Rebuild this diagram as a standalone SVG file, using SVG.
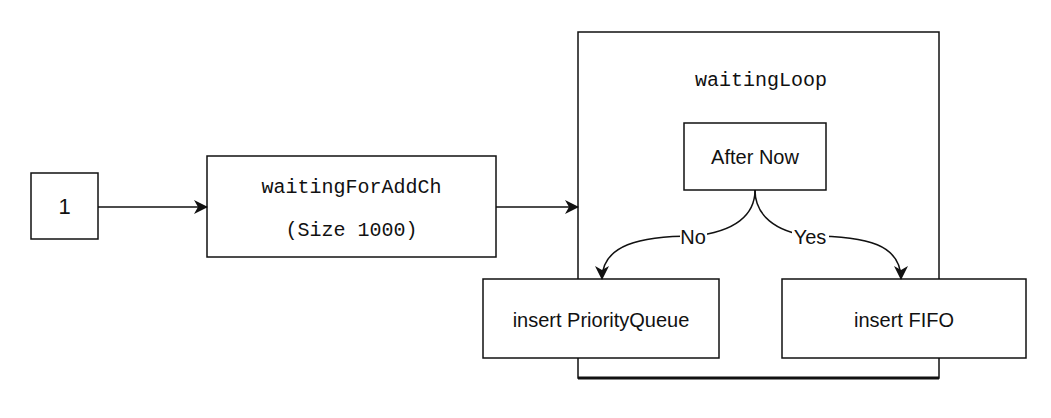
<svg xmlns="http://www.w3.org/2000/svg" width="1051" height="418" viewBox="0 0 1051 418">
<defs>
<style>
.box{fill:#fff;stroke:#111;stroke-width:1.5}
.edge{fill:none;stroke:#111;stroke-width:1.5}
.sans{font-family:"Liberation Sans",Arial,sans-serif;font-size:20px;fill:#111;text-anchor:middle;dominant-baseline:central}
.mono{font-family:"Liberation Mono","Courier New",monospace;font-size:20px;fill:#111;text-anchor:middle;dominant-baseline:central}
</style>
<marker id="arr" viewBox="0 0 14 14" refX="13" refY="7" markerWidth="14" markerHeight="14" markerUnits="userSpaceOnUse" orient="auto">
<path d="M0,0 L14,7 L0,14 L4,7 Z" fill="#111"/>
</marker>
</defs>
<rect width="1051" height="418" fill="#fff"/>
<g id="waitingLoop">
<rect class="box" x="578" y="32" width="361" height="346"/>
<line x1="578" y1="378" x2="939" y2="378" stroke="#111" stroke-width="3"/>
<text class="mono" x="761" y="80">waitingLoop</text>
</g>
<g id="node1">
<rect class="box" x="31" y="173" width="67" height="66"/>
<text class="sans" x="64.5" y="206" style="font-size:22px">1</text>
</g>
<g id="waitingForAddCh">
<rect class="box" x="207" y="156" width="289" height="101"/>
<text class="mono" x="351.5" y="187">waitingForAddCh</text>
<text class="mono" x="351.5" y="230">(Size 1000)</text>
</g>
<g id="afterNow">
<rect class="box" x="684" y="123" width="142" height="67"/>
<text class="sans" x="755" y="157">After Now</text>
</g>
<g id="insertPQ">
<rect class="box" x="483" y="279" width="236" height="79"/>
<text class="sans" x="601" y="320">insert PriorityQueue</text>
</g>
<g id="insertFIFO">
<rect class="box" x="782" y="279" width="244" height="79"/>
<text class="sans" x="904" y="320">insert FIFO</text>
</g>
<g id="connectors">
<line class="edge" x1="98" y1="207" x2="207" y2="207" marker-end="url(#arr)"/>
<line class="edge" x1="496" y1="207" x2="578" y2="207" marker-end="url(#arr)"/>
<path class="edge" d="M755,190 C755,215 735,232 693,236 C640,236 602,245 602,279" marker-end="url(#arr)"/>
<path class="edge" d="M755,190 C755,215 775,232 810,236 C868,236 901,245 901,279" marker-end="url(#arr)"/>
<rect x="680" y="226" width="27" height="22" fill="#fff"/>
<text class="sans" x="693" y="237">No</text>
<rect x="792" y="226" width="37" height="22" fill="#fff"/>
<text class="sans" x="810" y="237">Yes</text>
</g>
</svg>
